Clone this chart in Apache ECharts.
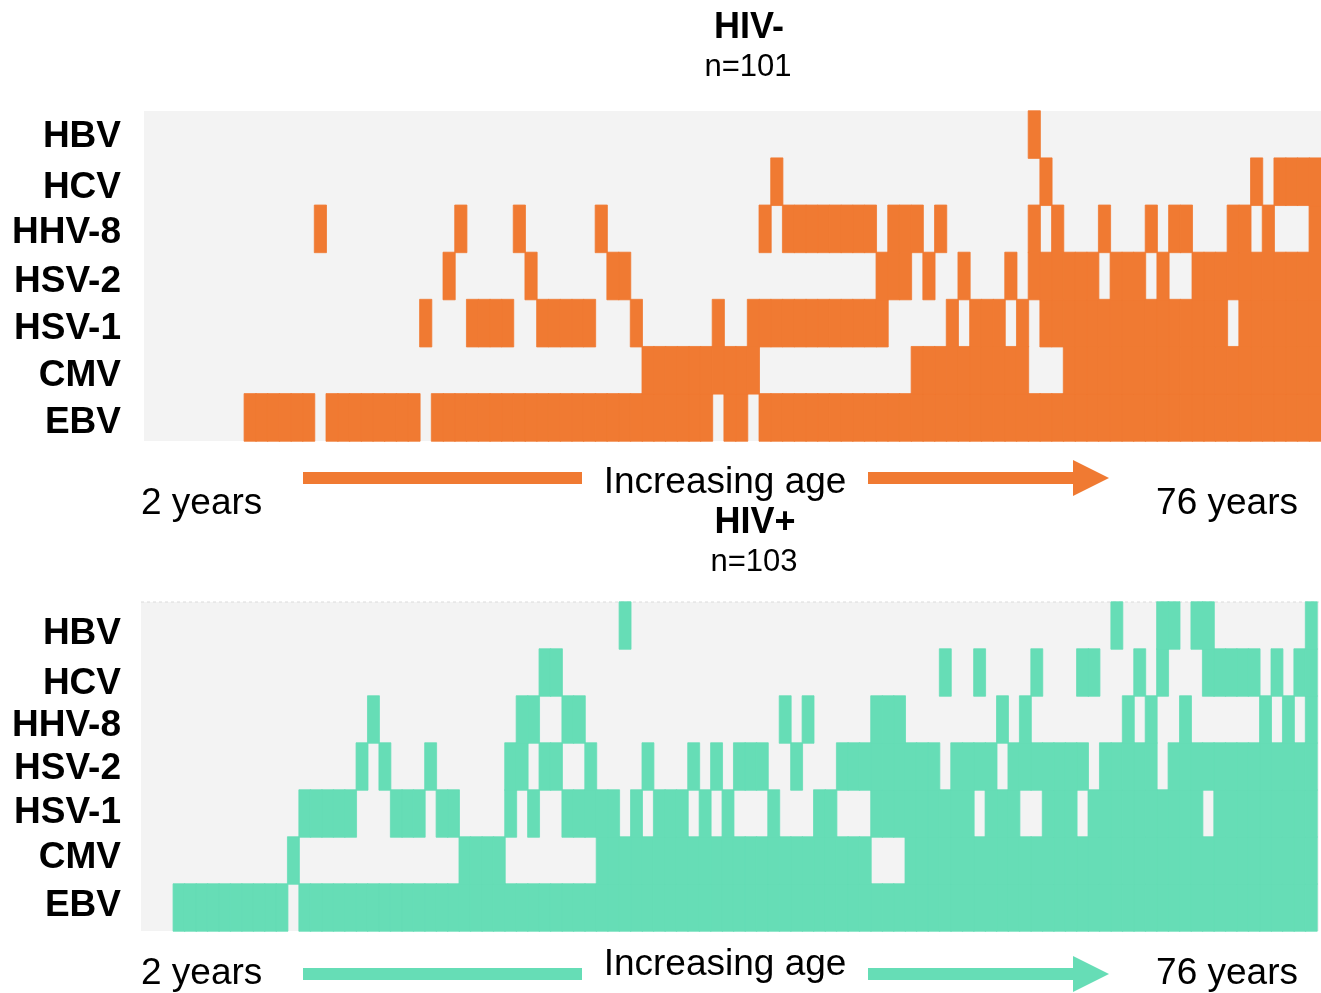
<!DOCTYPE html>
<html><head><meta charset="utf-8">
<script src="https://cdn.jsdelivr.net/npm/echarts@6/dist/echarts.min.js"></script>
<style>html,body{margin:0;padding:0;background:#fff}#c{width:1321px;height:993px}</style>
</head><body><div id="c"></div><script>
// Row labels, bottom to top
const viruses = ['EBV', 'CMV', 'HSV-1', 'HSV-2', 'HHV-8', 'HCV', 'HBV'];
const negCount = 101;
const posCount = 103;

// HIV- panel (101 participants, youngest to oldest); 1 = positive
const neg_HBV  = '0000000000 0000000000 0000000000 0000000000 0000000000 0000000000 0000000000 0000001000 0000000000 0000000000 0';
const neg_HCV  = '0000000000 0000000000 0000000000 0000000000 0000000000 0000100000 0000000000 0000000100 0000000000 0000010111 1';
const neg_HHV8 = '0000000000 0000010000 0000000100 0010000001 0000000000 0001011111 1110111010 0000001010 0010001011 0001101000 1';
const neg_HSV2 = '0000000000 0000000000 0000001000 0001000000 1100000000 0000000000 0001110100 1000101111 1101110100 1111111111 1';
const neg_HSV1 = '0000000000 0000000000 0000100011 1100111110 0010000001 0011111111 1111000001 0111010111 1111111111 1110111111 1';
const neg_CMV  = '0000000000 0000000000 0000000000 0000000000 0001111111 1110000000 0000001111 1111110001 1111111111 1111111111 1';
const neg_EBV  = '0000000001 1111101111 1111011111 1111111111 1111111110 1101111111 1111111111 1111111111 1111111111 1111111111 1';

// HIV+ panel (103 participants)
const pos_HBV  = '0000000000 0000000000 0000000000 0000000000 0010000000 0000000000 0000000000 0000000000 0000010001 1011000000 001';
const pos_HCV  = '0000000000 0000000000 0000000000 0000011000 0000000000 0000000000 0000000000 1001000010 0011000101 0001111101 011';
const pos_HHV8 = '0000000000 0000000000 1000000000 0001100110 0000000000 0000001010 0000111000 0000010100 0000001010 0100000010 101';
const pos_HSV2 = '0000000000 0000000001 0100010000 0011011001 0000100010 1011100100 0111111111 0111101111 1110111110 1111111111 111';
const pos_HSV1 = '0000000000 0000111110 0011101100 0010100111 1101011101 0100010001 1000111111 1110111001 1101111111 1110111111 111';
const pos_CMV  = '0000000000 0001000000 0000000011 1100000000 1111111111 1111111111 1111000111 1111111111 1111111111 1111111111 111';
const pos_EBV  = '0001111111 1110111111 1111111111 1111111111 1111111111 1111111111 1111111111 1111111111 1111111111 1111111111 111';

const negRows = [neg_EBV, neg_CMV, neg_HSV1, neg_HSV2, neg_HHV8, neg_HCV, neg_HBV];
const posRows = [pos_EBV, pos_CMV, pos_HSV1, pos_HSV2, pos_HHV8, pos_HCV, pos_HBV];

function parse(s) { return s.replace(/ /g, '').split('').map(Number); }
function cells(rows) {
  const d = [];
  rows.forEach((r, yi) => parse(r).forEach((v, xi) => { if (v) d.push([xi, yi, 1]); }));
  return d;
}
const idx = n => Array.from({length: n}, (_, i) => String(i));

const ORANGE = '#F07A32', TEAL = '#66DDB6', BG = '#F3F3F3';
const FONT = '"Liberation Sans", Arial, Helvetica, sans-serif';

// per-label vertical nudges (px, + = down), EBV..HBV
const negShift = [5, 6, 6, 6, 4, 6, 2];
const posShift = [-2, -3, -1, 2, 6, 11, 8];

function yAxisCfg(gi, shifts) {
  const rich = {};
  shifts.forEach((s, i) => {
    rich['r' + i] = {color: '#000', fontSize: 37, fontWeight: 'bold', fontFamily: FONT,
      padding: s >= 0 ? [2 * s, 0, 0, 0] : [0, 0, -2 * s, 0]};
  });
  return {
    type: 'category', gridIndex: gi, data: viruses,
    axisLine: {show: false}, axisTick: {show: false}, splitLine: {show: false},
    axisLabel: {color: '#000', fontSize: 37, fontWeight: 'bold', fontFamily: FONT, margin: 18,
      interval: 0, hideOverlap: false,
      formatter: (v, i) => '{r' + i + '|' + v + '}', rich: rich}
  };
}
function xAxisCfg(gi, n) {
  return {type: 'category', gridIndex: gi, data: idx(n), show: false, splitLine: {show: false}};
}
function txt(text, x, y, size, bold, align) {
  return {type: 'text', z: 100, style: {text: text, x: x, y: y,
    font: (bold ? 'bold ' : '') + size + 'px ' + FONT, fill: '#000',
    align: align || 'center', textAlign: align || 'center',
    verticalAlign: 'middle', textVerticalAlign: 'middle'}};
}
function arrow(y, color) {
  return [
    {type: 'rect', z: 100, shape: {x: 303, y: y - 6, width: 279, height: 12}, style: {fill: color}},
    {type: 'rect', z: 100, shape: {x: 868, y: y - 6, width: 207, height: 12}, style: {fill: color}},
    {type: 'polygon', z: 100, shape: {points: [[1073, y - 18], [1109, y], [1073, y + 18]]}, style: {fill: color}}
  ];
}

const chart = echarts.init(document.getElementById('c'), null, {renderer: 'canvas'});
chart.setOption({
  animation: false,
  backgroundColor: '#fff',
  grid: [
    {left: 139, top: 111, width: 1183, height: 330, containLabel: false},
    {left: 139, top: 602, width: 1178, height: 329, containLabel: false}
  ],
  xAxis: [xAxisCfg(0, negCount), xAxisCfg(1, posCount)],
  yAxis: [yAxisCfg(0, negShift), yAxisCfg(1, posShift)],
  visualMap: [
    {type: 'piecewise', show: false, seriesIndex: 0, dimension: 2, pieces: [{value: 1, color: ORANGE}]},
    {type: 'piecewise', show: false, seriesIndex: 1, dimension: 2, pieces: [{value: 1, color: TEAL}]}
  ],
  series: [
    {type: 'heatmap', xAxisIndex: 0, yAxisIndex: 0, data: cells(negRows),
     itemStyle: {borderWidth: 0.8, borderColor: ORANGE}, emphasis: {disabled: true}},
    {type: 'heatmap', xAxisIndex: 1, yAxisIndex: 1, data: cells(posRows),
     itemStyle: {borderWidth: 0.8, borderColor: TEAL}, emphasis: {disabled: true}}
  ],
  graphic: [
    {type: 'rect', z: -10, silent: true, shape: {x: 144, y: 111, width: 1177, height: 330}, style: {fill: BG}},
    {type: 'rect', z: -10, silent: true, shape: {x: 141, y: 602, width: 1178, height: 329}, style: {fill: BG}},
    {type: 'line', z: -9, silent: true, shape: {x1: 141, y1: 602, x2: 1319, y2: 602},
     style: {stroke: '#dcdcdc', lineWidth: 1, lineDash: [3, 3]}},
    txt('HIV-', 749, 28, 36, true),
    txt('n=101', 748, 67, 31, false),
    txt('Increasing age', 725, 483, 37, false),
    txt('2 years', 141, 504, 37, false, 'left'),
    txt('76 years', 1298, 504, 37, false, 'right'),
    txt('HIV+', 755, 523, 36, true),
    txt('n=103', 754, 562, 31, false),
    txt('Increasing age', 725, 965, 37, false),
    txt('2 years', 141, 974, 37, false, 'left'),
    txt('76 years', 1298, 974, 37, false, 'right'),
    ...arrow(478, ORANGE),
    ...arrow(974, TEAL)
  ]
});
</script></body></html>
